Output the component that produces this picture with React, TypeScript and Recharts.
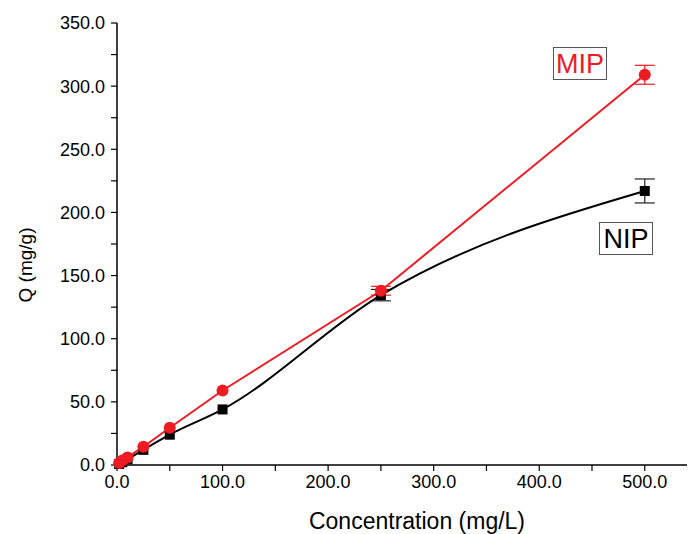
import { ComposedChart, Line, XAxis, YAxis, ErrorBar } from 'recharts';

const concentrations = [2, 5, 10, 25, 50, 100, 250, 500];
const mipValues = [1.5, 3.5, 6, 14.5, 29.5, 59, 138, 309];
// error bars smaller than the marker are hidden behind it in the original
const mipErrors = [null, null, null, null, null, null, 3.5, 7.5];
const nipValues = [0.8, 2.2, 4.5, 12, 24, 44, 134.5, 217];
const nipErrors = [null, null, null, null, null, null, 4.5, 9.5];

const xTicks = [0, 50, 100, 150, 200, 250, 300, 350, 400, 450, 500];
const yTicks = [0, 25, 50, 75, 100, 125, 150, 175, 200, 225, 250, 275, 300, 325, 350];

const RED = '#ed1c24';
const FONT = '"Liberation Sans", Arial, sans-serif';

const chartData = concentrations.map((c, i) => ({
  x: c,
  mip: mipValues[i],
  mipErr: mipErrors[i],
  nip: nipValues[i],
  nipErr: nipErrors[i],
}));

const SquareDot = (props: any) => {
  const { cx, cy } = props;
  if (cx == null || cy == null) return null;
  return <rect x={cx - 5} y={cy - 5} width={10} height={10} fill='#000' />;
};

const tickStyle = { fontFamily: FONT, fontSize: 18, fill: '#000' };

const boxLabel = {
  position: 'absolute' as const,
  width: 52,
  height: 31,
  border: '1px solid #555',
  fontFamily: FONT,
  fontSize: 27,
  lineHeight: '32px',
  textAlign: 'center' as const,
};

const App = () => {
  return (
    <div style={{ position: 'absolute', left: 0, top: 0, width: 689, height: 534, background: '#fff' }}>
      <ComposedChart
        width={689}
        height={534}
        data={chartData}
        margin={{ top: 23, right: 2, bottom: 0, left: 0 }}
      >
        <XAxis
          dataKey='x'
          type='number'
          domain={[0, 540]}
          ticks={xTicks}
          interval={0}
          tickFormatter={(v: number) => (v % 100 === 0 ? v.toFixed(1) : '')}
          height={69}
          tick={tickStyle}
          tickSize={6}
          tickMargin={4}
          axisLine={{ stroke: '#000', strokeWidth: 1.5 }}
          tickLine={{ stroke: '#000', strokeWidth: 1.2 }}
          label={{
            content: () => (
              <text x={417} y={529} textAnchor='middle' fontFamily={FONT} fontSize={23} fill='#000'>
                Concentration (mg/L)
              </text>
            ),
          }}
        />
        <YAxis
          type='number'
          domain={[0, 350]}
          ticks={yTicks}
          interval={0}
          tickFormatter={(v: number) => (v % 50 === 0 ? v.toFixed(1) : '')}
          width={117}
          tick={tickStyle}
          tickSize={6}
          tickMargin={6}
          axisLine={{ stroke: '#000', strokeWidth: 1.5 }}
          tickLine={{ stroke: '#000', strokeWidth: 1.2 }}
          label={{
            content: () => (
              <text
                x={32}
                y={265}
                transform='rotate(-90 32 265)'
                textAnchor='middle'
                fontFamily={FONT}
                fontSize={19}
                fill='#000'
              >
                Q (mg/g)
              </text>
            ),
          }}
        />
        <Line
          dataKey='nip'
          type='monotone'
          stroke='#000'
          strokeWidth={2}
          dot={<SquareDot />}
          activeDot={false}
          isAnimationActive={false}
        >
          <ErrorBar dataKey='nipErr' direction='y' width={10} stroke='#222' strokeWidth={1.2} />
        </Line>
        <Line
          dataKey='mip'
          type='linear'
          stroke={RED}
          strokeWidth={2}
          dot={{ r: 6, fill: RED, stroke: RED, strokeWidth: 0 }}
          activeDot={false}
          isAnimationActive={false}
        >
          <ErrorBar dataKey='mipErr' direction='y' width={10} stroke={RED} strokeWidth={1.2} />
        </Line>
      </ComposedChart>
      <div style={{ ...boxLabel, left: 553, top: 47, color: RED }}>MIP</div>
      <div style={{ ...boxLabel, left: 599, top: 222, color: '#000' }}>NIP</div>
    </div>
  );
};

export default App;
